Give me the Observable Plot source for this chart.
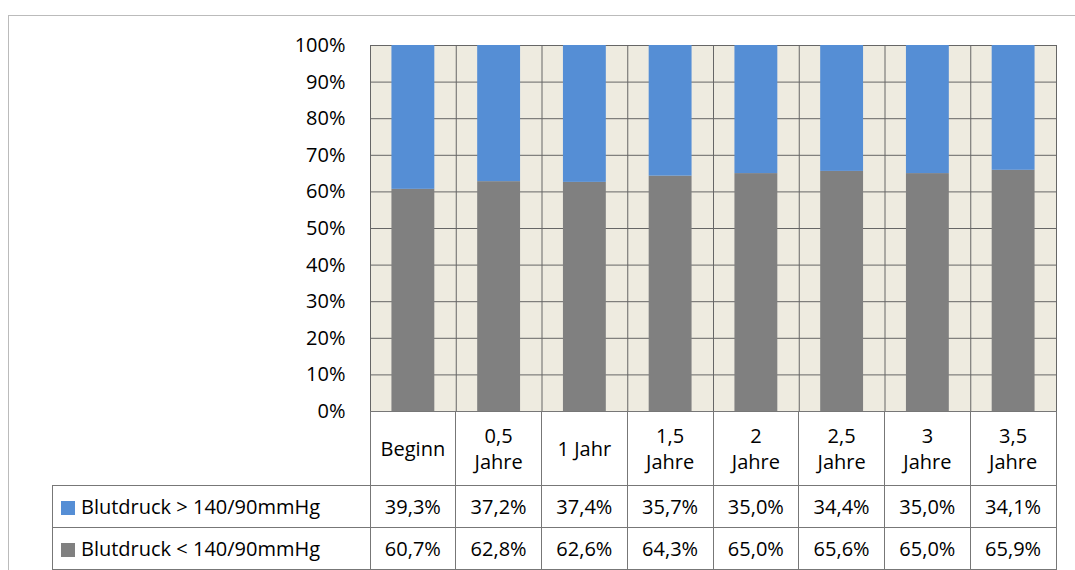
<!DOCTYPE html>
<html><head><meta charset="utf-8">
<script src="https://cdn.jsdelivr.net/npm/d3@7"></script>
<script src="https://cdn.jsdelivr.net/npm/@observablehq/plot@0.6"></script>
<style>
body{margin:0;background:#fff;font-family:"Open Sans",sans-serif;}
#wrap{position:relative;width:1075px;height:570px;overflow:hidden;}
#frame{position:absolute;left:8px;top:15px;width:1075px;height:560px;border-left:1px solid #bbb;border-top:1px solid #bbb;}
#chart{position:absolute;left:0;top:0;}
table{position:absolute;border-collapse:collapse;font-size:20px;color:#000;table-layout:fixed;}
td{border:1px solid #777;text-align:center;padding:0;line-height:1.3;white-space:nowrap;}
.sw{display:inline-block;width:14px;height:14px;margin:0 6px 0 8px;vertical-align:-1px;}
</style></head>
<body><div id="wrap"><div id="frame"></div><div id="chart"></div></div>
<script>
const categories = ["Beginn", "0,5\nJahre", "1 Jahr", "1,5\nJahre", "2\nJahre", "2,5\nJahre", "3\nJahre", "3,5\nJahre"];
const above = [39.3, 37.2, 37.4, 35.7, 35.0, 34.4, 35.0, 34.1];
const below = [60.7, 62.8, 62.6, 64.3, 65.0, 65.6, 65.0, 65.9];
const seriesNames = ["Blutdruck > 140/90mmHg", "Blutdruck < 140/90mmHg"];
const colors = ["#558ed5", "#808080"];

const rows = [];
categories.forEach((c, i) => {
    rows.push({i, s: 1, y1: 0, y2: below[i]});
    rows.push({i, s: 0, y1: below[i], y2: below[i] + above[i]});
});
const idx = d3.range(categories.length);

const chart = Plot.plot({
    width: 1075, height: 570,
    marginLeft: 370, marginRight: 19, marginTop: 45, marginBottom: 159,
    style: {fontFamily: "Open Sans", fontSize: "20px", background: "transparent", color: "#000"},
    x: {domain: [-0.5, categories.length - 0.5], axis: null},
    y: {domain: [0, 100], ticks: d3.range(0, 101, 10), tickFormat: (d) => d + "%", tickSize: 0, tickPadding: 25, label: null},
    marks: [
        Plot.frame({fill: "#eeebe0", stroke: "#666"}),
        Plot.ruleY(d3.range(10, 101, 10), {stroke: "#666"}),
        Plot.ruleX(idx.slice(0, -1), {x: (d) => d + 0.5, stroke: "#666"}),
        Plot.rect(rows, {x1: (d) => d.i - 0.25, x2: (d) => d.i + 0.25, y1: "y1", y2: "y2", fill: (d) => colors[d.s]}),
        Plot.ruleY([0], {stroke: "#666"})
    ]
});
document.getElementById("chart").append(chart);

// data table below the plot
const t = document.createElement("table");
t.style.left = "52px"; t.style.top = "411px";
const colW = 686 / categories.length;
let html = "<tr><td style='border:none;border-right:1px solid #777;width:317px'></td>";
categories.forEach((c) => html += `<td style="width:${colW - 1}px;height:73px">${c.replace("\n", "<br>")}</td>`);
html += "</tr>";
[above, below].forEach((vals, s) => {
    html += `<tr><td style="text-align:left;height:41px"><span class="sw" style="background:${colors[s]}"></span>${seriesNames[s]}</td>`;
    vals.forEach((v) => html += `<td>${v.toFixed(1).replace(".", ",")}%</td>`);
    html += "</tr>";
});
t.innerHTML = html;
document.getElementById("wrap").append(t);
</script></body></html>
